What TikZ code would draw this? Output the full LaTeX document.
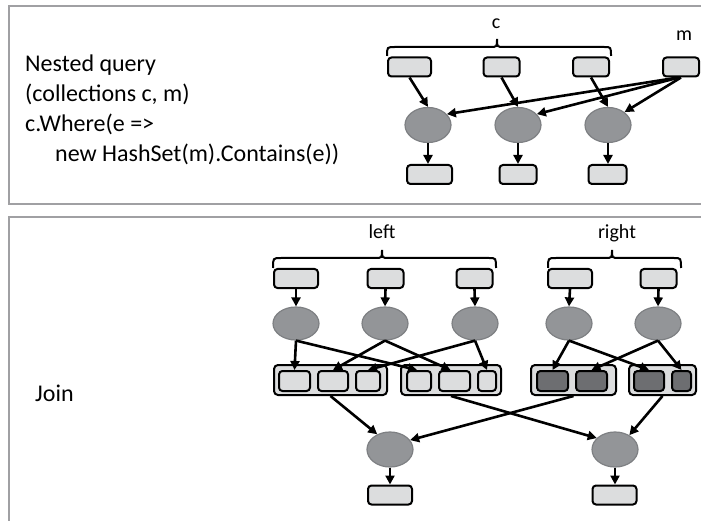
\documentclass[tikz,border=0pt]{standalone}
\usepackage{fontspec}
\setmainfont{Carlito}
\usetikzlibrary{arrows.meta,shapes.geometric,calc}
\definecolor{boxgray}{HTML}{DCDDDE}
\definecolor{ellgray}{HTML}{939598}
\definecolor{elledge}{HTML}{7E8083}
\definecolor{darkbox}{HTML}{6D6E71}
\definecolor{panelgray}{HTML}{A0A0A3}
\begin{document}
\begin{tikzpicture}[x=1pt,y=-1pt,
  box/.style={draw=black,line width=2pt,fill=boxgray,rounded corners=3.5pt,inner sep=0pt,minimum height=19pt},
  inbox/.style={box,minimum height=20pt},
  dbox/.style={inbox,fill=darkbox},
  grp/.style={box,minimum height=30pt,rounded corners=4pt},
  ell/.style={ellipse,draw=elledge,line width=1.2pt,fill=ellgray,inner sep=0pt},
  arr/.style={line width=2.6pt,-{Triangle[length=9pt,width=9pt]}},
  brc/.style={line width=2pt},
  bigtxt/.style={anchor=base west,inner sep=0pt,font=\fontsize{24}{29}\selectfont},
  lbl/.style={inner sep=0pt,font=\fontsize{20}{24}\selectfont},
  panel/.style={draw=panelgray,line width=2pt}
]
\useasboundingbox (0,0) rectangle (701,521);
\clip (0,0) rectangle (701,521);

% panels
\draw[panel] (720,6) -- (9,6) -- (9,204) -- (720,204);
\draw[panel] (720,217) -- (9,217) -- (9,540);

% ---------- top panel ----------
\node[bigtxt] (t1txt) at (25,72) {Nested query};
\node[bigtxt] (t2txt) at (25,102) {(collections c, m)};
\node[bigtxt] (t3txt) at (25,132) {c.Where(e =>};
\node[bigtxt] (t4txt) at (55,162) {new HashSet(m).Contains(e))};

\node[lbl] (clbl) at (496,24) {c};
\node[lbl] (mlbl) at (684,36) {m};

\draw[brc] (387,56) .. controls (387,47) .. (395,47) -- (490,47) .. controls (497,47) .. (497,39)
  .. controls (497,47) .. (504,47) -- (604,47) .. controls (611,47) .. (611,56);

\node[box,minimum width=43pt] (t1) at (409.5,67) {};
\node[box,minimum width=36pt] (t2) at (501.5,67) {};
\node[box,minimum width=36pt] (t3) at (591,67) {};
\node[box,minimum width=36pt] (tm) at (681,67) {};

\node[ell,minimum width=46pt,minimum height=35pt] (e1) at (428,125) {};
\node[ell,minimum width=46pt,minimum height=35pt] (e2) at (518,125) {};
\node[ell,minimum width=46pt,minimum height=35pt] (e3) at (608,125) {};

\node[box,minimum width=45pt] (b1) at (429.5,174.5) {};
\node[box,minimum width=37pt] (b2) at (518,174.5) {};
\node[box,minimum width=38pt] (b3) at (607.5,174.5) {};

\draw[arr] (t1.south) -- (e1.north);
\draw[arr] (t2.south) -- (e2.north);
\draw[arr] (t3.south) -- (e3.north);
\draw[arr] (tm.255) -- (e1.30);
\draw[arr] (tm.260) -- (e2.30);
\draw[arr] (tm.south) -- (e3.38);
\draw[arr] (e1.south) -- (e1.south |- b1.north);
\draw[arr] (e2.south) -- (e2.south |- b2.north);
\draw[arr] (e3.south) -- (e3.south |- b3.north);

% ---------- bottom panel ----------
\node[bigtxt] (jtxt) at (35,401) {Join};
\node[lbl] (leftlbl) at (382,232) {left};
\node[lbl] (rightlbl) at (617,233) {right};

\draw[brc] (273,268) .. controls (273,258) .. (281,258) -- (375,258) .. controls (382,258) .. (382,250)
  .. controls (382,258) .. (389,258) -- (489,258) .. controls (496,258) .. (496,268);
\draw[brc] (548,268) .. controls (548,258) .. (556,258) -- (605,258) .. controls (612,258) .. (612,250)
  .. controls (612,258) .. (619,258) -- (674,258) .. controls (681,258) .. (681,268);

\node[box,minimum width=44pt] (L1) at (296,278.5) {};
\node[box,minimum width=36pt] (L2) at (385.5,278.5) {};
\node[box,minimum width=36pt] (L3) at (474.5,278.5) {};
\node[box,minimum width=44pt] (R1) at (570,278.5) {};
\node[box,minimum width=36pt] (R2) at (658.5,278.5) {};

\node[ell,minimum width=46pt,minimum height=33pt] (E1) at (296,323.5) {};
\node[ell,minimum width=46pt,minimum height=33pt] (E2) at (385,323.5) {};
\node[ell,minimum width=46pt,minimum height=33pt] (E3) at (475,323.5) {};
\node[ell,minimum width=46pt,minimum height=33pt] (E4) at (569,323.5) {};
\node[ell,minimum width=46pt,minimum height=33pt] (E5) at (658,323.5) {};

\node[grp,minimum width=113pt] (G1) at (330.5,380) {};
\node[grp,minimum width=100pt] (G2) at (451,380) {};
\node[grp,minimum width=85pt] (G3) at (573.5,380) {};
\node[grp,minimum width=67pt] (G4) at (662.5,380) {};

\node[inbox,minimum width=31pt] (G1a) at (294.5,381) {};
\node[inbox,minimum width=30pt] (G1b) at (333,381) {};
\node[inbox,minimum width=24pt] (G1c) at (368,381) {};
\node[inbox,minimum width=24pt] (G2a) at (419,381) {};
\node[inbox,minimum width=31pt] (G2b) at (454.5,381) {};
\node[inbox,minimum width=18pt] (G2c) at (487,381) {};
\node[dbox,minimum width=31pt] (G3a) at (552.5,381) {};
\node[dbox,minimum width=31pt] (G3b) at (591.5,381) {};
\node[dbox,minimum width=30pt] (G4a) at (649,381) {};
\node[dbox,minimum width=19pt] (G4b) at (681.5,381) {};

\node[ell,minimum width=46pt,minimum height=35pt] (F1) at (390,449.5) {};
\node[ell,minimum width=46pt,minimum height=35pt] (F2) at (615,449.5) {};

\node[box,minimum width=44pt] (FB1) at (390,495) {};
\node[box,minimum width=44pt] (FB2) at (614.5,495) {};

\draw[arr] (L1.south) -- (E1.north);
\draw[arr] (L2.south) -- (E2.north);
\draw[arr] (L3.south) -- (E3.north);
\draw[arr] (R1.south) -- (E4.north);
\draw[arr] (R2.south) -- (E5.north);

\draw[arr] (E1.south) -- (G1a.north);
\draw[arr] (E1.south) -- (G2a.100);
\draw[arr] (E2.south) -- (G1b.north);
\draw[arr] (E2.south) -- (G2b.110);
\draw[arr] (E3.south) -- (G1c.north);
\draw[arr] (E3.south) -- (G2c.north);
\draw[arr] (E4.south) -- (G3a.north);
\draw[arr] (E4.south) -- (G4a.north);
\draw[arr] (E5.south) -- (G3b.north);
\draw[arr] (E5.south) -- (G4b.north);

\draw[arr] (G1.south) -- (F1.130);
\draw[arr] (G3.south) -- (F1.25);
\draw[arr] (G2.south) -- (F2.148);
\draw[arr] (G4.south) -- (F2.45);

\draw[arr] (F1.south) -- (F1.south |- FB1.north);
\draw[arr] (F2.south) -- (F2.south |- FB2.north);
\end{tikzpicture}
\end{document}
